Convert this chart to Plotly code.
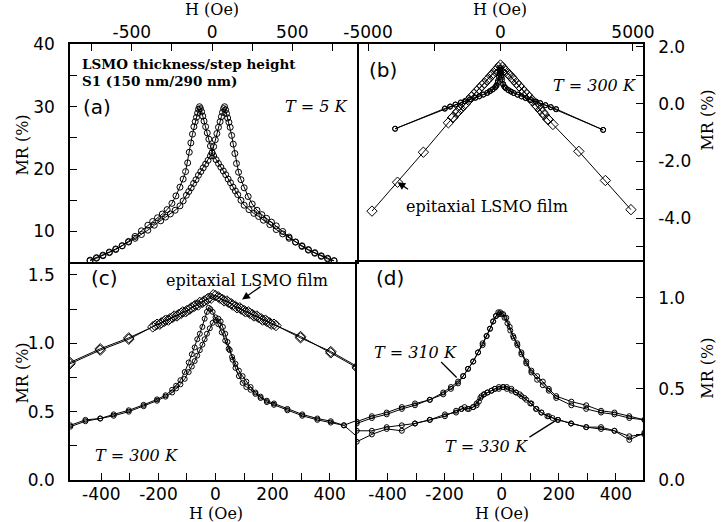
import plotly.graph_objects as go

# ---------------- data ----------------
# (a) sample S1, T = 5 K, low field, two sweep branches
a_down_H = [760, 720, 680, 640, 600, 560, 520, 480, 440, 400, 360, 320, 290, 260, 230, 200, 180, 160, 145, 130,
            115, 100, 85, 70, 55, 40, 25, 10, 0, -10, -20, -30, -40, -50, -58, -65, -72, -78, -84, -90,
            -97, -105, -113, -122, -132, -142, -152, -165, -180, -200, -225, -250, -280, -310, -340, -370, -400,
            -440, -480, -520, -560, -600, -640, -680, -720, -760]
a_down_MR = [5.3, 5.7, 6.1, 6.6, 7.1, 7.7, 8.3, 8.9, 9.6, 10.3, 11.1, 11.8, 12.4, 12.9, 13.5, 14.2, 15.0, 15.9, 16.5, 17.1,
             17.8, 18.4, 19.1, 19.7, 20.3, 20.9, 21.5, 22.1, 22.6, 23.7, 24.8, 25.8, 26.8, 27.7, 28.5, 29.2, 29.7, 30.0, 29.6, 29.0,
             28.3, 27.6, 26.8, 25.6, 24.2, 22.7, 21.0, 19.6, 18.4, 17.1, 15.7, 14.5, 13.5, 12.8, 12.2, 11.6, 11.0,
             10.1, 9.2, 8.4, 7.7, 7.1, 6.6, 6.1, 5.7, 5.3]
a_up_H = [-760, -720, -680, -640, -600, -560, -520, -480, -440, -400, -360, -320, -290, -260, -230, -200, -180, -160, -145, -130,
          -115, -100, -85, -70, -55, -40, -25, -10, 0, 10, 20, 30, 40, 50, 58, 65, 72, 78, 84, 90,
          97, 105, 113, 122, 132, 142, 152, 165, 180, 200, 225, 250, 280, 310, 340, 370, 400,
          440, 480, 520, 560, 600, 640, 680, 720, 760]
a_up_MR = [5.4, 5.8, 6.2, 6.7, 7.2, 7.7, 8.3, 8.9, 9.5, 10.2, 11.0, 11.7, 12.3, 12.8, 13.4, 14.1, 14.9, 15.8, 16.4, 17.0,
           17.7, 18.3, 19.0, 19.6, 20.2, 20.8, 21.4, 22.1, 22.6, 23.6, 24.7, 25.7, 26.7, 27.6, 28.4, 29.1, 29.7, 30.0, 29.5, 28.9,
           28.2, 27.5, 26.7, 25.4, 24.0, 22.5, 20.9, 19.5, 18.3, 17.0, 15.6, 14.4, 13.4, 12.7, 12.1, 11.5, 10.9,
           10.0, 9.1, 8.3, 7.6, 7.0, 6.5, 6.0, 5.6, 5.3]

# (b) T = 300 K, high field: sample (circles) and epitaxial film (diamonds)
b_s_down_H = [3876, 2100, 1900, 1700, 1500, 1340, 1150, 950, 800, 650, 500, 400, 300, 200, 150, 100, 60, 30, 15, 0,
              -15, -30, -60, -100, -150, -200, -300, -400, -500, -650, -800, -950, -1150, -1340, -1500, -1700, -1900, -2100, -3977]
b_s_down_MR = [-0.91, -0.19, -0.12, -0.05, 0.02, 0.08, 0.14, 0.21, 0.26, 0.32, 0.38, 0.43, 0.48, 0.55, 0.60, 0.68, 0.85, 1.00, 1.10, 1.20,
               1.25, 1.18, 0.98, 0.80, 0.66, 0.59, 0.51, 0.45, 0.39, 0.33, 0.27, 0.22, 0.16, 0.10, 0.05, -0.02, -0.09, -0.16, -0.87]
b_s_up_H = [-3977, -2100, -1900, -1700, -1500, -1340, -1150, -950, -800, -650, -500, -400, -300, -200, -150, -100, -60, -30, -15, 0,
            10, 25, 50, 100, 150, 200, 300, 400, 500, 650, 800, 950, 1150, 1340, 1500, 1700, 1900, 2100, 3876]
b_s_up_MR = [-0.87, -0.17, -0.10, -0.03, 0.04, 0.09, 0.15, 0.21, 0.26, 0.32, 0.38, 0.44, 0.50, 0.57, 0.63, 0.74, 0.92, 1.06, 1.13, 1.17,
             1.18, 1.10, 0.92, 0.70, 0.60, 0.55, 0.48, 0.43, 0.38, 0.32, 0.26, 0.20, 0.13, 0.08, 0.03, -0.04, -0.11, -0.18, -0.91]
b_f_down_H = [4925, 3960, 2958, 1980, 1800, 1650, 1500, 1350, 1200, 1000, 800, 600, 450, 300, 150, 0,
              -150, -300, -450, -600, -800, -1000, -1200, -1350, -1500, -1650, -1800, -1967, -2910, -3885, -4850]
b_f_down_MR = [-3.70, -2.68, -1.66, -0.72, -0.55, -0.38, -0.21, -0.05, 0.11, 0.32, 0.53, 0.74, 0.90, 1.05, 1.20, 1.36,
               1.20, 1.04, 0.88, 0.73, 0.53, 0.33, 0.13, -0.02, -0.17, -0.32, -0.48, -0.66, -1.69, -2.74, -3.75]
b_f_up_H = [-1800, -1600, -1400, -1100, -900, -700, -500, -350, -200, -75, 75, 200, 350, 500, 700, 900, 1100, 1400, 1600, 1800]
b_f_up_MR = [-0.47, -0.26, -0.06, 0.24, 0.44, 0.64, 0.84, 0.99, 1.14, 1.28, 1.28, 1.14, 0.99, 0.84, 0.63, 0.42, 0.22, -0.09, -0.30, -0.54]

# (c) T = 300 K, low field: epitaxial film (diamonds) and sample (circles)
c_f_down_H = [497, 404, 298, 205, 190, 175, 160, 145, 130, 115, 100, 85, 70, 55, 40, 25, 10, -8, -25, -40,
              -55, -70, -85, -100, -115, -130, -145, -160, -175, -190, -205, -220, -304, -404, -510]
c_f_down_MR = [0.83, 0.94, 1.04, 1.14, 1.15, 1.17, 1.18, 1.20, 1.21, 1.23, 1.24, 1.26, 1.27, 1.29, 1.31, 1.32, 1.34, 1.355, 1.33, 1.31,
               1.30, 1.28, 1.26, 1.24, 1.23, 1.21, 1.20, 1.18, 1.17, 1.15, 1.14, 1.12, 1.04, 0.96, 0.86]
c_f_up_H = [-510, -404, -304, -212, -195, -180, -165, -150, -135, -120, -105, -90, -75, -60, -45, -30, -15, 0, 15, 30,
            45, 60, 75, 90, 105, 120, 135, 150, 165, 180, 195, 212, 298, 404, 497]
c_f_up_MR = [0.85, 0.95, 1.03, 1.13, 1.14, 1.16, 1.17, 1.19, 1.20, 1.22, 1.23, 1.25, 1.27, 1.28, 1.30, 1.32, 1.33, 1.35, 1.33, 1.31,
             1.30, 1.28, 1.26, 1.25, 1.23, 1.22, 1.20, 1.19, 1.17, 1.16, 1.14, 1.13, 1.05, 0.93, 0.82]
c_s_down_H = [500, 450, 404, 357, 304, 252, 205, 180, 158, 140, 123, 108, 95, 82, 70, 58, 46, 34, 22, 10,
              0, -10, -18, -24, -30, -38, -46, -55, -64, -73, -83, -94, -108, -123, -138, -152, -175, -205, -252, -304,
              -357, -404, -456, -509]
c_s_down_MR = [0.31, 0.40, 0.43, 0.45, 0.48, 0.52, 0.56, 0.58, 0.61, 0.64, 0.68, 0.72, 0.76, 0.80, 0.85, 0.90, 0.96, 1.02, 1.08, 1.14,
               1.19, 1.23, 1.25, 1.26, 1.23, 1.18, 1.12, 1.07, 1.03, 0.97, 0.92, 0.86, 0.79, 0.73, 0.69, 0.66, 0.62, 0.59, 0.55, 0.51,
               0.48, 0.45, 0.44, 0.40]
c_s_up_H = [-509, -456, -404, -357, -304, -252, -205, -175, -152, -138, -123, -108, -94, -83, -73, -64, -55, -46, -38, -30,
            -20, -10, 0, 10, 18, 26, 34, 42, 50, 60, 70, 82, 95, 108, 123, 140, 158, 180, 205, 252,
            304, 357, 404, 450, 500]
c_s_up_MR = [0.39, 0.43, 0.45, 0.47, 0.50, 0.54, 0.58, 0.61, 0.64, 0.67, 0.70, 0.74, 0.79, 0.83, 0.87, 0.91, 0.95, 0.99, 1.03, 1.07,
             1.11, 1.15, 1.17, 1.18, 1.16, 1.12, 1.07, 1.01, 0.95, 0.88, 0.82, 0.76, 0.71, 0.68, 0.66, 0.63, 0.60, 0.57, 0.55, 0.51,
             0.47, 0.44, 0.42, 0.40, 0.44]

# (d) sample at T = 310 K and T = 330 K
d310_down_H = [500, 447, 395, 348, 296, 244, 191, 165, 144, 124, 104, 86, 69, 54, 40, 28, 16, 5, -5, -12,
               -20, -30, -41, -53, -67, -83, -100, -118, -135, -153, -178, -205, -252, -304, -350, -403, -455, -508]
d310_down_MR = [0.33, 0.35, 0.37, 0.38, 0.41, 0.43, 0.46, 0.50, 0.54, 0.57, 0.60, 0.65, 0.70, 0.75, 0.79, 0.84, 0.89, 0.91, 0.92, 0.92,
                0.90, 0.87, 0.83, 0.79, 0.75, 0.70, 0.65, 0.61, 0.57, 0.54, 0.51, 0.48, 0.44, 0.42, 0.40, 0.37, 0.35, 0.32]
d310_up_H = [-508, -455, -403, -350, -304, -252, -205, -178, -153, -135, -118, -100, -83, -67, -53, -41, -30, -20, -10, 0,
             10, 20, 30, 42, 55, 69, 86, 104, 124, 144, 165, 191, 244, 296, 348, 395, 447, 500]
d310_up_MR = [0.31, 0.34, 0.36, 0.39, 0.41, 0.44, 0.47, 0.50, 0.53, 0.57, 0.61, 0.65, 0.70, 0.74, 0.79, 0.83, 0.87, 0.90, 0.91, 0.91,
              0.89, 0.86, 0.82, 0.78, 0.74, 0.69, 0.64, 0.59, 0.55, 0.52, 0.49, 0.45, 0.41, 0.39, 0.37, 0.36, 0.34, 0.33]
d330_down_H = [500, 447, 395, 348, 296, 243, 197, 165, 139, 120, 104, 86, 69, 50, 34, 18, 5, -10, -24, -36,
               -50, -62, -71, -80, -88, -100, -115, -130, -141, -160, -199, -252, -304, -350, -403, -455, -508]
d330_down_MR = [0.26, 0.22, 0.27, 0.29, 0.29, 0.31, 0.33, 0.35, 0.37, 0.39, 0.42, 0.44, 0.46, 0.48, 0.50, 0.51, 0.51, 0.50, 0.50, 0.49,
                0.48, 0.47, 0.46, 0.43, 0.41, 0.40, 0.39, 0.40, 0.39, 0.37, 0.36, 0.33, 0.31, 0.30, 0.29, 0.27, 0.27]
d330_up_H = [-508, -455, -403, -350, -304, -252, -199, -160, -141, -120, -100, -88, -75, -62, -50, -36, -24, -10, 5, 18,
             34, 50, 63, 80, 100, 122, 139, 160, 178, 197, 243, 296, 348, 395, 447, 500]
d330_up_MR = [0.21, 0.25, 0.28, 0.27, 0.31, 0.33, 0.35, 0.38, 0.39, 0.39, 0.40, 0.42, 0.45, 0.47, 0.48, 0.49, 0.50, 0.51, 0.51, 0.50,
              0.49, 0.48, 0.47, 0.45, 0.42, 0.39, 0.37, 0.35, 0.34, 0.33, 0.31, 0.29, 0.28, 0.27, 0.24, 0.25]

# tick labels
a_x_ticks = [-750, -500, -250, 0, 250, 500, 750]
a_x_text = ['', '-500', '', '0', '', '500', '']
a_y_ticks = [5, 10, 15, 20, 25, 30, 35, 40]
a_y_text = ['', '10', '', '20', '', '30', '', '40']
b_x_ticks = [-5000, -2500, 0, 2500, 5000]
b_x_text = ['-5000', '', '0', '', '5000']
b_y_ticks = [-5, -4, -3, -2, -1, 0, 1, 2]
b_y_text = ['', '-4.0', '', '-2.0', '', '0.0', '', '2.0']
low_x_ticks = [-400, -300, -200, -100, 0, 100, 200, 300, 400]
low_x_text = ['-400', '', '-200', '', '0', '', '200', '', '400']
c_y_ticks = [0, 0.25, 0.5, 0.75, 1.0, 1.25, 1.5]
c_y_text = ['0.0', '', '0.5', '', '1.0', '', '1.5']
d_y_ticks = [0, 0.25, 0.5, 0.75, 1.0]
d_y_text = ['0.0', '', '0.5', '', '1.0']

# ---------------- figure ----------------
SANS = 'DejaVu Sans'
SERIF = 'DejaVu Serif'

fig = go.Figure()


def add(x, y, xa, ya, symbol='circle-open', size=6):
    fig.add_trace(go.Scatter(
        x=x, y=y, xaxis=xa, yaxis=ya, mode='lines+markers',
        line=dict(color='black', width=1),
        marker=dict(symbol=symbol, size=size, color='black', line=dict(width=1, color='black')),
        showlegend=False, hoverinfo='skip'))


add(a_down_H, a_down_MR, 'x', 'y')
add(a_up_H, a_up_MR, 'x', 'y')
add(b_s_down_H, b_s_down_MR, 'x2', 'y2', size=5)
add(b_s_up_H, b_s_up_MR, 'x2', 'y2', size=5)
add(b_f_down_H, b_f_down_MR, 'x2', 'y2', 'diamond-open', 8)
add(b_f_up_H, b_f_up_MR, 'x2', 'y2', 'diamond-open', 8)
add(c_f_down_H, c_f_down_MR, 'x3', 'y3', 'diamond-open', 8)
add(c_f_up_H, c_f_up_MR, 'x3', 'y3', 'diamond-open', 8)
add(c_s_down_H, c_s_down_MR, 'x3', 'y3', size=5)
add(c_s_up_H, c_s_up_MR, 'x3', 'y3', size=5)
add(d310_down_H, d310_down_MR, 'x4', 'y4', size=5)
add(d310_up_H, d310_up_MR, 'x4', 'y4', size=5)
add(d330_down_H, d330_down_MR, 'x4', 'y4', size=5)
add(d330_up_H, d330_up_MR, 'x4', 'y4', size=5)


def axis(domain, rng, tickvals, ticktext, side, anchor, standoff, mirror):
    # shared panel edges are drawn only once (by panels a and d)
    return dict(
        domain=domain, range=rng, anchor=anchor, side=side,
        tickmode='array', tickvals=tickvals, ticktext=ticktext,
        ticks='inside', ticklen=7, tickwidth=1.2, tickcolor='black',
        showline=True, linecolor='black', linewidth=1.5, mirror=mirror,
        showgrid=False, zeroline=False,
        ticklabelstandoff=standoff,
        tickfont=dict(family=SANS, size=17, color='black'),
    )


XSPLIT = 0.5009
fig.update_layout(
    width=722, height=522,
    margin=dict(l=70, r=79, t=44, b=42),
    paper_bgcolor='white', plot_bgcolor='white',
    xaxis=axis([0, XSPLIT], [-885, 903], a_x_ticks, a_x_text, 'top', 'y', -3, True),
    yaxis=axis([0.5, 1], [5.1, 40.06], a_y_ticks, a_y_text, 'left', 'x', 10, True),
    xaxis2=axis([XSPLIT, 1], [-5415, 5380], b_x_ticks, b_x_text, 'top', 'y2', -3, False),
    yaxis2=axis([0.5, 1], [-5.53, 2.094], b_y_ticks, b_y_text, 'right', 'x2', 10, False),
    xaxis3=axis([0, XSPLIT], [-510, 496], low_x_ticks, low_x_text, 'bottom', 'y3', -2, False),
    yaxis3=axis([0, 0.5], [0, 1.595], c_y_ticks, c_y_text, 'left', 'x3', 10, False),
    xaxis4=axis([XSPLIT, 1], [-507, 495], low_x_ticks, low_x_text, 'bottom', 'y4', -2, True),
    yaxis4=axis([0, 0.5], [0, 1.196], d_y_ticks, d_y_text, 'right', 'x4', 10, True),
)


def note(text, x, y, xr, yr, size=16, family=SERIF, anchor='left', **kw):
    fig.add_annotation(text=text, x=x, y=y, xref=xr, yref=yr, xanchor=anchor, yanchor='middle',
                       showarrow=False, font=dict(family=family, size=size, color='black'), **kw)


def pointer(x, y, xr, yr, ax, ay, head=2):
    fig.add_annotation(text='', x=x, y=y, xref=xr, yref=yr, ax=ax, ay=ay, showarrow=True,
                       arrowhead=head, arrowsize=1.2, arrowwidth=1.3, arrowcolor='black', standoff=0)


# axis titles
note('H (Oe)', 0, 1.078, 'x', 'paper', anchor='center')
note('H (Oe)', 0, 1.078, 'x2', 'paper', anchor='center')
note('H (Oe)', 0, -0.076, 'x3', 'paper', anchor='center')
note('H (Oe)', 0, -0.076, 'x4', 'paper', anchor='center')
note('MR (%)', -0.083, 0.768, 'paper', 'paper', anchor='center', textangle=-90)
note('MR (%)', -0.083, 0.245, 'paper', 'paper', anchor='center', textangle=-90)
note('MR (%)', 1.113, 0.826, 'paper', 'paper', anchor='center', textangle=-90)
note('MR (%)', 1.113, 0.257, 'paper', 'paper', anchor='center', textangle=-90)

# panel (a)
note('<b>LSMO thickness/step height</b>', -822, 36.9, 'x', 'y', 13.5)
note('<b>S1 (150 nm/290 nm)</b>', -822, 34.1, 'x', 'y', 13.5)
note('(a)', -815, 30.0, 'x', 'y', 20, SANS)
note('<i>T</i> = <i>5 K</i>', 860, 30.0, 'x', 'y', 16, anchor='right')

# panel (b)
note('(b)', -5050, 1.19, 'x2', 'y2', 20, SANS)
note('<i>T</i> = <i>300 K</i>', 5184, 0.66, 'x2', 'y2', 16, anchor='right')
note('epitaxial LSMO film', -3650, -3.6, 'x2', 'y2', 16)
pointer(-3885, -2.74, 'x2', 'y2', 12, 8)

# panel (c)
note('(c)', -445, 1.48, 'x3', 'y3', 20, SANS)
note('epitaxial LSMO film', -180, 1.46, 'x3', 'y3', 16)
pointer(93, 1.32, 'x3', 'y3', 20, -14)
note('<i>T</i> = <i>300 K</i>', -430, 0.18, 'x3', 'y3', 16)

# panel (d)
note('(d)', -448, 1.11, 'x4', 'y4', 20, SANS)
note('<i>T</i> = <i>310 K</i>', -455, 0.70, 'x4', 'y4', 16)
pointer(-158, 0.562, 'x4', 'y4', -17, -17, head=0)
note('<i>T</i> = <i>330 K</i>', -207, 0.184, 'x4', 'y4', 16)
pointer(197, 0.334, 'x4', 'y4', -30, 19, head=0)

fig.write_html('out.html')
